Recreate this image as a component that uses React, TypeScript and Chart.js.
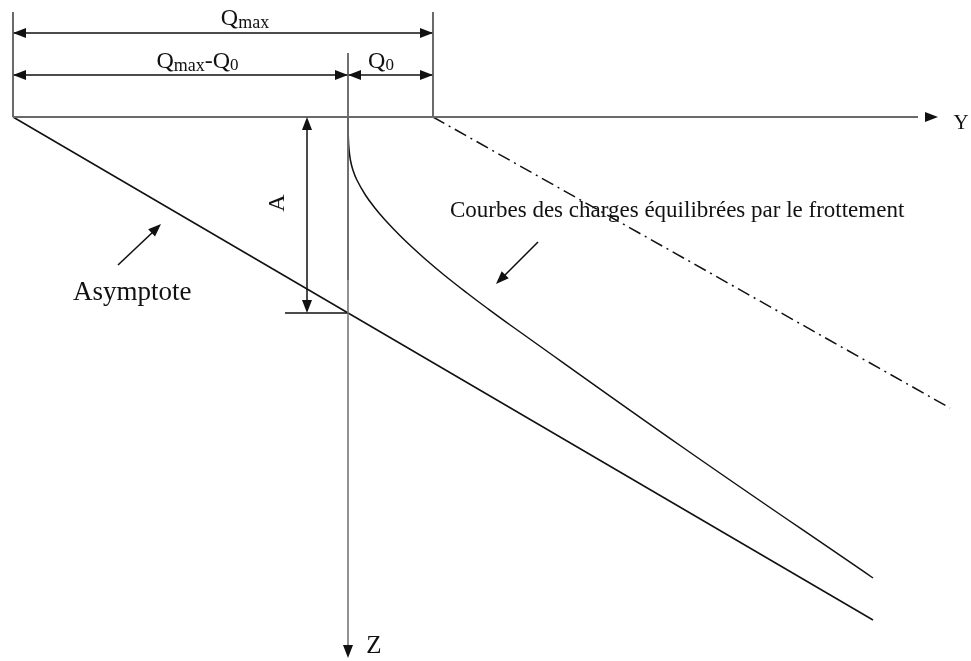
import { useEffect, useRef } from "react";
import { Chart, registerables } from "chart.js";

Chart.register(...registerables);

// Coordinates: horizontal load axis Y and depth Z, in drawing units.
// Y = 0 on the pile axis, Z = 0 at ground level (Z grows downward).
const Q_MAX_START = -33.5; // left end of Qmax
const Q_0 = 8.5; // Q0, measured to the right of the pile axis
const A_DEPTH = 19.6; // depth A where the asymptote meets the pile axis

// Asymptote of the friction curves
const asymptoteY = [-33.5, 52.5];
const asymptoteZ = [0, 50.3];

// Curve of loads balanced by friction
const frictionCurveY = [0, 0.03, 0.11, 0.24, 0.49, 0.89, 1.74, 2.69, 3.71, 5.14, 6.39, 7.83, 9.61, 11.9, 13.89, 16.22, 33.43, 52.5];
const frictionCurveZ = [0, 2.0, 3.3, 4.3, 5.3, 6.3, 7.8, 9.1, 10.3, 11.8, 13.0, 14.3, 15.8, 17.6, 19.1, 20.8, 33.0, 46.1];

// Dash-dot line starting at Qmax
const chargeLineY = [8.5, 60.2];
const chargeLineZ = [0, 29.1];

// Layout of the axes and dimension lines
const VIEW = { yMin: -34.8, yMax: 62.3, zMin: -11.7, zMax: 54.4 };
const AXIS = { yEnd: 59.0, zTop: -6.4, zEnd: 54.1, separatorEnd: 16.3 };
const DIM = { qMaxLevel: -8.4, q0Level: -4.2, extTop: -10.5, aAt: -4.1, aTickFrom: -6.3 };

const INK = "#111111";
const GREY = "#6a6a6a";

const pts = (ys: number[], zs: number[]) => ys.map((y, i) => ({ x: y, y: zs[i] }));

type Part = [string, number, number];
type Label =
  | { kind: "parts"; parts: Part[]; y: number; z: number }
  | { kind: "text"; text: string; size: number; y: number; z: number; align: CanvasTextAlign; rotate?: boolean };

const labels: Label[] = [
  { kind: "parts", parts: [["Q", 24, 0], ["max", 18, 3]], y: -10.3, z: -9.2 },
  { kind: "parts", parts: [["Q", 24, 0], ["max", 18, 3], ["-Q", 24, 0], ["0", 17, 2]], y: -15.05, z: -4.9 },
  { kind: "parts", parts: [["Q", 24, 0], ["0", 17, 2]], y: 3.3, z: -4.9 },
  { kind: "text", text: "A", size: 24, y: -7.0, z: 8.6, align: "center", rotate: true },
  { kind: "text", text: "Asymptote", size: 27, y: -27.5, z: 18.3, align: "left" },
  { kind: "text", text: "Courbes des charges équilibrées par le frottement", size: 23, y: 10.2, z: 10.0, align: "left" },
  { kind: "text", text: "Y", size: 21, y: 61.3, z: 1.2, align: "center" },
  { kind: "text", text: "Z", size: 25, y: 2.6, z: 53.6, align: "center" },
];

// Arrow heads: tip (y, z) and a point behind it on the shaft
const arrowHeads: [number, number, number, number][] = [
  [AXIS.yEnd, 0, 0, 0],
  [0, AXIS.zEnd, 0, 0],
  [Q_MAX_START, DIM.qMaxLevel, 0, DIM.qMaxLevel],
  [Q_0, DIM.qMaxLevel, 0, DIM.qMaxLevel],
  [Q_MAX_START, DIM.q0Level, -10, DIM.q0Level],
  [0, DIM.q0Level, -10, DIM.q0Level],
  [0, DIM.q0Level, 5, DIM.q0Level],
  [Q_0, DIM.q0Level, 0, DIM.q0Level],
  [DIM.aAt, 0, DIM.aAt, 10],
  [DIM.aAt, A_DEPTH, DIM.aAt, 10],
  [-18.7, 10.7, -23.0, 14.8],
  [14.8, 16.7, 19.0, 12.5],
];

const FONT = '"Liberation Serif", "Times New Roman", serif';

const diagramPlugin = {
  id: "diagramMarks",
  afterDatasetsDraw(chart: any) {
    const { ctx, scales } = chart;
    const px = (v: number) => scales.x.getPixelForValue(v);
    const pz = (v: number) => scales.y.getPixelForValue(v);
    ctx.save();
    ctx.fillStyle = INK;
    for (const [ty, tz, fy, fz] of arrowHeads) {
      const tx = px(ty);
      const tzp = pz(tz);
      const ang = Math.atan2(tzp - pz(fz), tx - px(fy));
      const len = 13;
      const half = 5;
      ctx.beginPath();
      ctx.moveTo(tx, tzp);
      ctx.lineTo(tx - len * Math.cos(ang) - half * Math.sin(ang), tzp - len * Math.sin(ang) + half * Math.cos(ang));
      ctx.lineTo(tx - len * Math.cos(ang) + half * Math.sin(ang), tzp - len * Math.sin(ang) - half * Math.cos(ang));
      ctx.closePath();
      ctx.fill();
    }
    ctx.textBaseline = "alphabetic";
    for (const lb of labels) {
      const x = px(lb.y);
      const z = pz(lb.z);
      if (lb.kind === "parts") {
        let total = 0;
        for (const [t, s] of lb.parts) {
          ctx.font = `${s}px ${FONT}`;
          total += ctx.measureText(t).width;
        }
        let cx = x - total / 2;
        ctx.textAlign = "left";
        for (const [t, s, drop] of lb.parts) {
          ctx.font = `${s}px ${FONT}`;
          ctx.fillText(t, cx, z + drop);
          cx += ctx.measureText(t).width;
        }
      } else {
        ctx.font = `${lb.size}px ${FONT}`;
        if (lb.rotate) {
          ctx.save();
          ctx.translate(x, z);
          ctx.rotate(-Math.PI / 2);
          ctx.textAlign = "center";
          ctx.textBaseline = "middle";
          ctx.fillText(lb.text, 0, 0);
          ctx.restore();
        } else {
          ctx.textAlign = lb.align;
          ctx.fillText(lb.text, x, z);
        }
      }
    }
    ctx.restore();
  },
};

function line(data: { x: number; y: number }[], color: string, width: number, dash: number[] = []) {
  return {
    data,
    showLine: true,
    borderColor: color,
    borderWidth: width,
    borderDash: dash,
    pointRadius: 0,
    pointHoverRadius: 0,
    fill: false,
    tension: 0,
  };
}

export default function App() {
  const ref = useRef<HTMLCanvasElement | null>(null);

  useEffect(() => {
    if (!ref.current) return;
    const chart = new Chart(ref.current, {
      type: "scatter",
      data: {
        datasets: [
          line([{ x: Q_MAX_START, y: 0 }, { x: AXIS.yEnd - 2, y: 0 }], GREY, 2),
          line([{ x: 0, y: AXIS.zTop }, { x: 0, y: AXIS.zEnd - 1 }], "#777777", 1.6),
          line([{ x: 0, y: AXIS.zTop }, { x: 0, y: AXIS.separatorEnd }], INK, 1.4),
          line([{ x: Q_MAX_START, y: DIM.extTop }, { x: Q_MAX_START, y: 0 }], GREY, 2),
          line([{ x: Q_0, y: DIM.extTop }, { x: Q_0, y: 0 }], GREY, 2),
          line([{ x: Q_MAX_START, y: DIM.qMaxLevel }, { x: Q_0, y: DIM.qMaxLevel }], INK, 1.5),
          line([{ x: Q_MAX_START, y: DIM.q0Level }, { x: 0, y: DIM.q0Level }], INK, 1.5),
          line([{ x: 0, y: DIM.q0Level }, { x: Q_0, y: DIM.q0Level }], INK, 1.5),
          line([{ x: DIM.aAt, y: 0.5 }, { x: DIM.aAt, y: A_DEPTH - 0.5 }], INK, 1.5),
          line([{ x: DIM.aTickFrom, y: A_DEPTH }, { x: 0, y: A_DEPTH }], INK, 1.4),
          line(pts(asymptoteY, asymptoteZ), INK, 1.5),
          { ...line(pts(frictionCurveY, frictionCurveZ), INK, 1.5), tension: 0.4 },
          line(pts(chargeLineY, chargeLineZ), INK, 1.5, [13, 5, 2, 5]),
          line([{ x: -23.0, y: 14.8 }, { x: -19.4, y: 11.4 }], INK, 1.6),
          line([{ x: 19.0, y: 12.5 }, { x: 15.5, y: 16.0 }], INK, 1.6),
        ],
      },
      options: {
        animation: false,
        responsive: false,
        devicePixelRatio: 1,
        events: [],
        layout: { padding: 0 },
        plugins: { legend: { display: false }, tooltip: { enabled: false } },
        scales: {
          x: { type: "linear", display: false, min: VIEW.yMin, max: VIEW.yMax },
          y: { type: "linear", display: false, min: VIEW.zMin, max: VIEW.zMax, reverse: true },
        },
      },
      plugins: [diagramPlugin],
    });
    return () => chart.destroy();
  }, []);

  return (
    <div style={{ position: "fixed", left: 0, top: 0, width: 971, height: 661, background: "#fff" }}>
      <canvas ref={ref} width={971} height={661} />
    </div>
  );
}
